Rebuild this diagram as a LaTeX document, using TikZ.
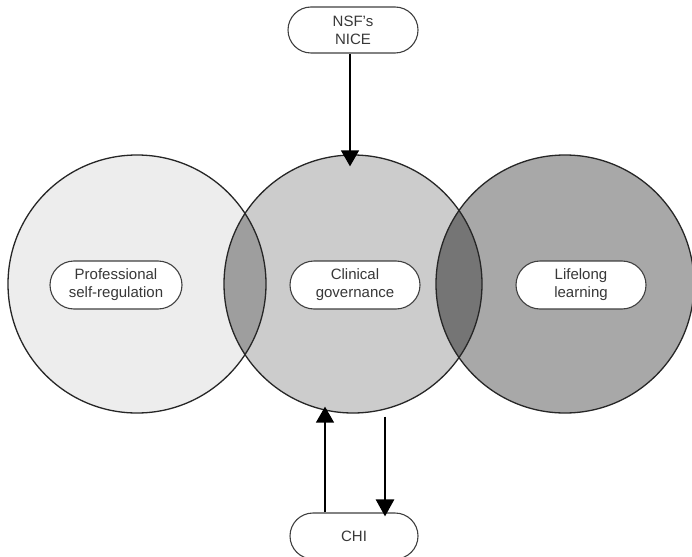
\documentclass[tikz,border=0pt]{standalone}
\usepackage{fontspec}
\setmainfont{Liberation Sans}
\usetikzlibrary{shapes.misc,arrows.meta}
\definecolor{cL}{gray}{0.93}
\definecolor{cC}{gray}{0.80}
\definecolor{cR}{gray}{0.66}
\definecolor{lensL}{gray}{0.62}
\definecolor{lensR}{gray}{0.46}
\definecolor{txt}{gray}{0.22}
\tikzset{
  ring/.style={circle, draw=black!85, line width=1.3pt, minimum size=258pt, inner sep=0pt},
  tag/.style={rounded rectangle, draw=black!75, line width=1.1pt, fill=white,
    minimum width=130pt, minimum height=48pt, inner sep=0pt, align=center,
    font=\fontsize{15}{18}\selectfont, text=txt},
  arr/.style={line width=1.5pt, -{Triangle[length=16pt,width=18pt]}},
  arrb/.style={line width=2.6pt, -{Triangle[length=17pt,width=18pt]}}
}
\begin{document}
\begin{tikzpicture}[x=1pt,y=-1pt]
\useasboundingbox (0,0) rectangle (692,556);
\fill[white] (0,0) rectangle (692,556);
% circles fills
\node[ring, draw=none, fill=cL] (L) at (137,284) {};
\node[ring, draw=none, fill=cC] (C) at (353,284) {};
\node[ring, draw=none, fill=cR] (R) at (565,284) {};
% lenses
\begin{scope}
  \clip (137,284) circle (129);
  \fill[lensL] (353,284) circle (129);
\end{scope}
\begin{scope}
  \clip (353,284) circle (129);
  \fill[lensR] (565,284) circle (129);
\end{scope}
% outlines
\draw[black!85, line width=1.3pt] (137,284) circle (129);
\draw[black!85, line width=1.3pt] (353,284) circle (129);
\draw[black!85, line width=1.3pt] (565,284) circle (129);
% labels
\node[tag, minimum width=132pt] (psr) at (116,285) {Professional\\self-regulation};
\node[tag] (cg) at (355,285) {Clinical\\governance};
\node[tag] (ll) at (581,285) {Lifelong\\learning};
\node[tag, minimum height=46pt] (nice) at (353,30) {NSF's\\NICE};
\node[tag, minimum height=46pt, minimum width=128pt] (chi) at (354,536) {CHI};
% arrows
\draw[arr] ([xshift=-3pt]nice.south) -- ([xshift=-3pt,yshift=-12pt]C.north);
\draw[arr] ([xshift=-29pt]chi.north) -- ([xshift=-28pt,yshift=7pt]C.south);
\draw[arrb] ([xshift=32pt,yshift=-3pt]C.south) -- ([xshift=31pt,yshift=-4pt]chi.north);
\end{tikzpicture}
\end{document}
